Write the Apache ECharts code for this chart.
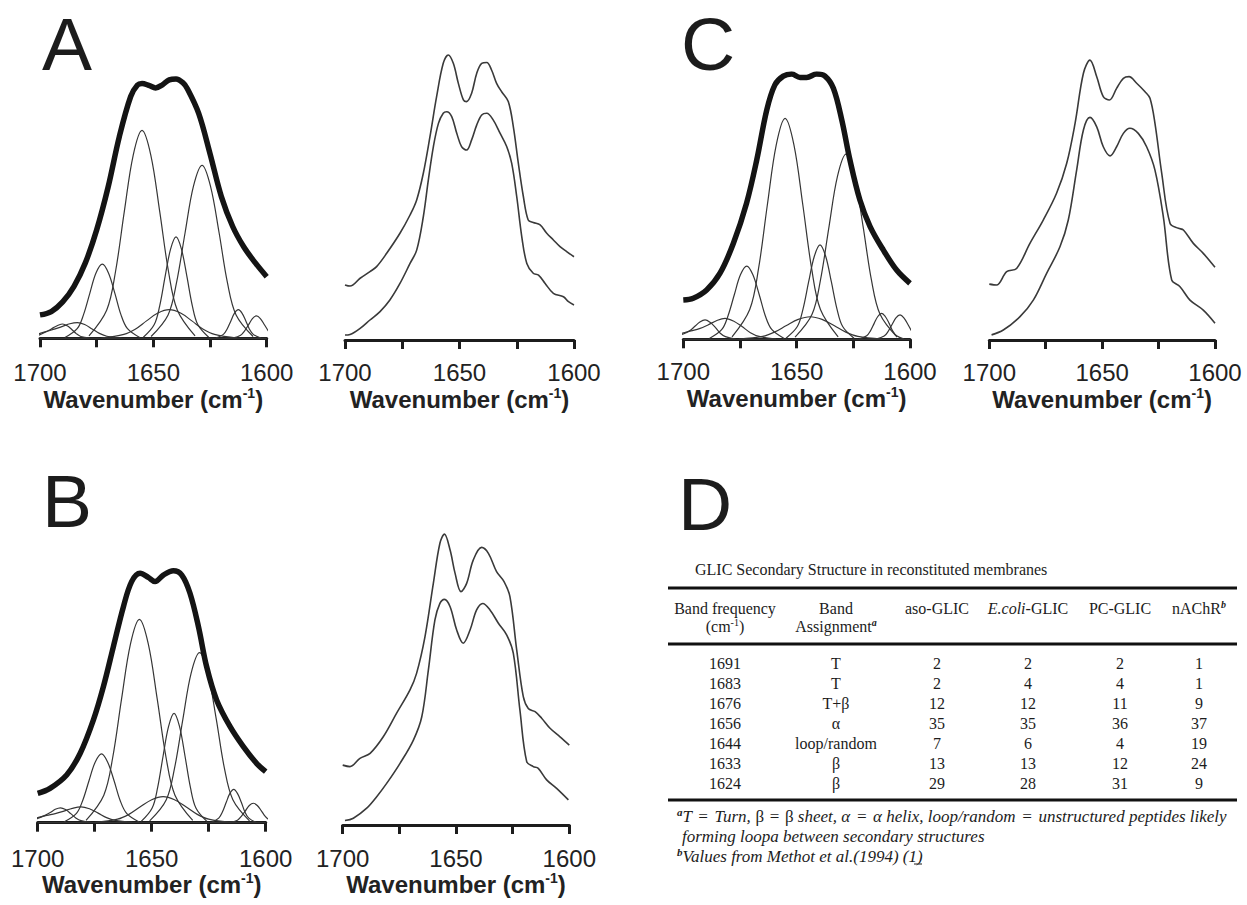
<!DOCTYPE html>
<html>
<head>
<meta charset="utf-8">
<script src="https://cdn.jsdelivr.net/npm/echarts@6/dist/echarts.min.js"></script>
<style>
html, body { margin: 0; padding: 0; background: #fff; }
#main { width: 1247px; height: 905px; }
</style>
</head>
<body>
<div id="main"></div>
<script>
// ---- data ----
var labeledTicks = [1700, 1650, 1600];

// left plots: measured envelope (thick) and fitted bands, relative units
var envA = [[1700,9.0],[1695,10.3],[1690,14],[1685,20],[1680,29],[1675,41.7],[1670,58],[1665,77.6],[1660,93],[1657,97.4],[1655,98],[1652,97.3],[1649,96.3],[1646,97.5],[1643,99.4],[1640,99.7],[1637,98.3],[1635,96],[1630,86.5],[1625,71],[1620,54.5],[1615,43],[1610,35],[1605,29],[1600,23.7]];
var envB = [[1700,11.6],[1694.6,13.6],[1687.3,18.9],[1681.4,27.4],[1675.6,40.6],[1671.2,53.8],[1666.8,69.7],[1662.4,85.5],[1658.8,95.4],[1655.1,98.7],[1651.5,97.1],[1648.5,95.4],[1644.9,98],[1640.5,99.7],[1636.8,98],[1633.2,90.8],[1629.5,77.6],[1625.9,61.7],[1621.5,48.5],[1615.6,38],[1609.8,30.1],[1604,23.5],[1600,20.2]];
var envC = [[1700,14.8],[1695.6,15.5],[1689.7,18.6],[1683.8,24.9],[1677.9,36.2],[1672.1,51.3],[1667.6,67.6],[1663.2,86.4],[1659.6,95.9],[1655.9,99.2],[1652.2,100],[1648.5,98.7],[1645.6,98.7],[1641.2,100],[1637.5,99.2],[1633.8,94.6],[1630.1,82.7],[1626.5,67.6],[1622.1,52.5],[1617.6,42.5],[1611.8,33.7],[1605.9,26.1],[1600,21.1]];

var bandsA = [
  [[1703,0.6],[1700,1.4],[1698,2.2],[1696,3.1],[1694,4.1],[1692,5.0],[1690,5.5],[1688,4.8],[1686,3.4],[1684,1.8],[1682,0.7],[1678,0.1]],
  [[1703,1.0],[1700,1.9],[1696.5,2.8],[1693.3,3.6],[1690,4.6],[1686.8,5.6],[1683.5,6],[1680.3,5.3],[1677,3.6],[1673.8,1.9],[1670.5,0.8],[1664,0.1]],
  [[1689,0.3],[1683.5,3.8],[1680.8,9.1],[1678,17.4],[1675.3,25.1],[1672.5,28.5],[1669.8,25.1],[1667,17.4],[1664.3,9.1],[1661.5,3.8],[1656,0.3]],
  [[1678.4,0.9],[1670.6,10.8],[1666.7,25.6],[1662.8,48.8],[1658.9,70.4],[1655,80],[1651.1,70.4],[1647.2,48.8],[1643.3,25.6],[1639.4,10.8],[1631.6,0.9]],
  [[1673,0.1],[1663,1.5],[1658,3.5],[1653,6.7],[1648,9.7],[1643,11],[1638,9.7],[1633,6.7],[1628,3.5],[1623,1.5],[1613,0.1]],
  [[1654.4,0.4],[1649.6,5.3],[1647.2,12.5],[1644.8,23.8],[1642.4,34.3],[1640,39],[1637.6,34.3],[1635.2,23.8],[1632.8,12.5],[1630.4,5.3],[1625.6,0.4]],
  [[1651,0.7],[1643.5,9],[1639.8,21.3],[1636,40.6],[1632.3,58.5],[1628.5,66.5],[1624.8,58.5],[1621,40.6],[1617.3,21.3],[1613.5,9],[1606,0.7]],
  [[1622.4,0.1],[1619.1,1.5],[1617.5,3.5],[1615.8,6.7],[1614.2,9.7],[1612.5,11],[1610.9,9.7],[1609.2,6.7],[1607.6,3.5],[1605.9,1.5],[1602.6,0.1]],
  [[1615,0.1],[1611.5,1.2],[1609.8,2.8],[1608,5.2],[1606.3,7.6],[1604.5,8.6],[1602.8,7.6],[1601,5.2],[1599.3,2.8]]
];
var bandsB = [
  [[1703.5,0.8],[1700,1.7],[1696.8,2.9],[1694.5,4.0],[1692.3,5.3],[1690,5.9],[1687.8,5.2],[1685.5,3.6],[1683.3,1.9],[1681,0.8],[1676.5,0.1]],
  [[1703.5,1.1],[1700,2.0],[1696,2.9],[1692.3,3.6],[1688.5,4.6],[1684.8,5.7],[1681,6.3],[1677.3,5.5],[1673.5,3.8],[1669.8,2],[1666,0.9],[1658.5,0.1]],
  [[1688.5,0.3],[1683,3.7],[1680.3,8.7],[1677.5,16.6],[1674.8,23.9],[1672,27.2],[1669.3,23.9],[1666.5,16.6],[1663.8,8.7],[1661,3.7],[1655.5,0.3]],
  [[1678.8,0.9],[1671,10.9],[1667.1,25.8],[1663.2,49.1],[1659.3,70.8],[1655.4,80.5],[1651.5,70.8],[1647.6,49.1],[1643.7,25.8],[1639.8,10.9],[1632,0.9]],
  [[1675,0.1],[1665,1.4],[1660,3.3],[1655,6.3],[1650,9.1],[1645,10.3],[1640,9.1],[1635,6.3],[1630,3.3],[1625,1.4],[1615,0.1]],
  [[1654.6,0.5],[1649.8,5.8],[1647.4,13.9],[1645,26.4],[1642.6,38.1],[1640.2,43.3],[1637.8,38.1],[1635.4,26.4],[1633,13.9],[1630.6,5.8],[1625.8,0.5]],
  [[1650.9,0.7],[1643.6,9.1],[1640,21.5],[1636.3,41.1],[1632.7,59.2],[1629,67.3],[1625.4,59.2],[1621.7,41.1],[1618.1,21.5],[1614.4,9.1],[1607.1,0.7]],
  [[1623.9,0.1],[1620.6,1.8],[1619,4.2],[1617.3,8.1],[1615.7,11.6],[1614,13.2],[1612.4,11.6],[1610.7,8.1],[1609.1,4.2],[1607.4,1.8],[1604.1,0.1]],
  [[1615.9,0.1],[1612.4,1],[1610.7,2.5],[1608.9,4.7],[1607.2,6.8],[1605.4,7.7],[1603.7,6.8],[1601.9,4.7],[1600.2,2.5],[1598.4,1]]
];
var bandsC = [
  [[1703.9,1.0],[1700,2.0],[1697.2,3.2],[1694.9,4.9],[1692.7,6.5],[1690.4,7.3],[1688.2,6.4],[1685.9,4.5],[1683.7,2.3],[1681.4,1],[1676.9,0.1]],
  [[1704.1,1.4],[1700,2.4],[1696.6,3.2],[1692.9,4.0],[1689.1,5.4],[1685.4,7.0],[1681.6,7.9],[1677.9,6.9],[1674.1,4.8],[1670.4,2.5],[1666.6,1.1],[1659.1,0.1]],
  [[1688.5,0.3],[1683,3.7],[1680.3,8.8],[1677.5,16.8],[1674.8,24.3],[1672,27.6],[1669.3,24.3],[1666.5,16.8],[1663.8,8.8],[1661,3.7],[1655.5,0.3]],
  [[1678.5,0.9],[1670.7,11.2],[1666.8,26.7],[1662.9,50.8],[1659,73.3],[1655.1,83.3],[1651.2,73.3],[1647.3,50.8],[1643.4,26.7],[1639.5,11.2],[1631.7,0.9]],
  [[1675.5,0.1],[1665,1.1],[1659.8,2.7],[1654.5,5.2],[1649.3,7.5],[1644,8.5],[1638.8,7.5],[1633.5,5.2],[1628.3,2.7],[1623,1.1],[1612.5,0.1]],
  [[1654.7,0.4],[1649.7,4.8],[1647.2,11.4],[1644.7,21.7],[1642.2,31.3],[1639.7,35.6],[1637.2,31.3],[1634.7,21.7],[1632.2,11.4],[1629.7,4.8],[1624.7,0.4]],
  [[1650.7,0.8],[1643.2,9.4],[1639.5,22.3],[1635.7,42.6],[1632,61.4],[1628.2,69.8],[1624.5,61.4],[1620.7,42.6],[1617,22.3],[1613.2,9.4],[1605.7,0.8]],
  [[1622.4,0.1],[1619.1,1.3],[1617.5,3.1],[1615.8,6],[1614.2,8.6],[1612.5,9.8],[1610.9,8.6],[1609.2,6],[1607.6,3.1],[1605.9,1.3],[1602.6,0.1]],
  [[1614.9,0.1],[1611.4,1.2],[1609.7,2.9],[1607.9,5.6],[1606.2,8.1],[1604.4,9.2],[1602.7,8.1],[1600.9,5.6],[1599.2,2.9]]
];
var baseline = [[1700,0],[1600,0]];

// right plots: two spectra each, relative units
var specATop = [[1700,19.0],[1697.8,18.6],[1693.4,21.3],[1689.1,23.6],[1686.2,25.3],[1681.8,29.9],[1676,36.8],[1671.6,43.1],[1668.7,48.3],[1665.8,57.5],[1662.9,70.1],[1660,83.9],[1657.1,95.4],[1654.9,98.3],[1652.7,95.4],[1650.5,88.5],[1648.3,82.8],[1646.9,82.2],[1644.7,85.1],[1642.5,91.9],[1640.3,95.4],[1638.1,95.7],[1636,93.1],[1633.8,88.5],[1631.6,85.6],[1628.7,82.2],[1626.5,73.6],[1624.3,60.9],[1622.1,49.4],[1620,41.4],[1617.8,40.5],[1614.8,39.7],[1611.9,36.8],[1609,34.5],[1606.1,32.2],[1603.2,30.5],[1600,28.7]];
var specABot = [[1700,1.7],[1697.8,1.9],[1693.4,4.0],[1689.1,6.9],[1684.7,9.8],[1680.4,13.8],[1676,19.5],[1671.6,26.4],[1668.7,31.0],[1665.8,42.5],[1663.6,55.2],[1661.4,66.7],[1659.2,74.7],[1657.1,78.2],[1655.6,78.7],[1653.4,77.0],[1651.2,71.3],[1649.1,66.7],[1646.9,65.5],[1644.7,69.0],[1642.5,74.1],[1640.3,77.6],[1638.1,78.2],[1635.3,75.9],[1632.3,71.3],[1629.4,66.7],[1627.2,60.9],[1625,49.4],[1622.8,35.6],[1620.6,26.4],[1617.8,23.0],[1615.5,22.4],[1612.6,19.5],[1609,16.1],[1604.6,14.9],[1602.4,13.2],[1600,12.1]];
var specBTop = [[1700,20.3],[1696.8,19.8],[1692.4,22.6],[1687.9,24.3],[1682.1,29.9],[1676.2,37.9],[1670.3,45.8],[1667.4,51.4],[1663.7,63.8],[1660,81.9],[1657.1,95.5],[1655.1,98.6],[1652.6,93.2],[1650.4,85.3],[1647.8,79.1],[1645.3,81.9],[1642.4,89.8],[1638.7,94.1],[1635.7,92.1],[1632.1,85.9],[1628.8,82.5],[1626.2,77.4],[1623.2,59.3],[1620.3,43.5],[1618.1,39.5],[1615.1,38.4],[1612.2,36.2],[1608.5,32.8],[1604.1,29.9],[1600,27.1]];
var specBBot = [[1699,1.5],[1695.3,2.3],[1689.4,5.7],[1685,9.6],[1680.6,14.1],[1674.7,20.9],[1668.8,28.8],[1665.1,36.7],[1662.2,52.5],[1659.3,69.5],[1657.1,75.1],[1655.1,76.5],[1652.6,74.0],[1649.7,66.1],[1646.8,61.6],[1643.8,66.1],[1640.9,72.9],[1638.2,75.1],[1635,72.9],[1631.3,68.4],[1627.6,64.4],[1624.7,58.2],[1621.8,39.0],[1618.8,21.5],[1615.9,19.8],[1613.7,19.2],[1610,15.3],[1605.6,12.4],[1600.4,8.5]];
var specCTop = [[1700,19.6],[1696.8,19.3],[1692.3,24.0],[1687.9,25.1],[1682,33.9],[1676.1,42.1],[1670.2,51.5],[1665.7,62.0],[1662,76.0],[1658.3,93.6],[1655.4,98.2],[1652.4,92.4],[1649.5,85.4],[1646.8,84.2],[1643.6,88.3],[1640.6,91.8],[1638.1,92.4],[1634.7,90.1],[1631,87.1],[1628.8,84.8],[1626.6,76.0],[1623.6,58.5],[1619.9,40.9],[1616.2,39.2],[1614,38.6],[1609.6,33.9],[1605.2,30.4],[1600,25.5]];
var specCBot = [[1699,1.8],[1693.8,3.5],[1686.4,8.2],[1680.5,14.0],[1674.6,23.4],[1668.7,32.7],[1665,42.1],[1661.3,59.6],[1658.3,73.7],[1655.4,78.1],[1652.4,74.8],[1649.5,67.8],[1646.5,64.6],[1643.6,67.8],[1640.6,72.5],[1637.7,74.3],[1634,72.5],[1630.3,67.8],[1626.6,59.6],[1622.9,43.3],[1619.2,21.1],[1615.5,18.7],[1611.1,14.0],[1605.2,10.5],[1600,5.9]];

// table D
var bandFreq = [1691, 1683, 1676, 1656, 1644, 1633, 1624];
var bandAssign = ['T', 'T', 'T+β', 'α', 'loop/random', 'β', 'β'];
var asoGLIC = [2, 2, 12, 35, 7, 13, 29];
var ecoliGLIC = [2, 4, 12, 35, 6, 13, 28];
var pcGLIC = [2, 4, 11, 36, 4, 12, 31];
var nAChR = [1, 1, 9, 37, 19, 24, 9];

// ---- chart ----
var sans = '"Liberation Sans", Arial, Helvetica, sans-serif';
var serif = '"Liberation Serif", "Times New Roman", serif';
var ink = '#1c1c1c';

var chart = echarts.init(document.getElementById('main'), null, {renderer: 'svg'});

var grids = [], xAxes = [], yAxes = [], series = [];

function addPanel(box) {
    var i = grids.length;
    grids.push({left: box.left, top: box.top, width: box.width, height: box.height});
    xAxes.push({
        gridIndex: i, type: 'value', min: 1600, max: 1700, interval: 25, inverse: true,
        offset: box.offset,
        axisLine: {lineStyle: {color: ink, width: 3}},
        axisTick: {length: 9, lineStyle: {color: ink, width: 3}},
        splitLine: {show: false},
        axisLabel: {
            showMinLabel: true, showMaxLabel: true, margin: 8,
            fontFamily: sans, fontSize: 24, color: '#222',
            formatter: function (v) { return labeledTicks.indexOf(v) >= 0 ? String(v) : ''; }
        },
        name: '{t|Wavenumber (cm}{s|-1}{t|)}',
        nameLocation: 'middle', nameGap: 31,
        nameTextStyle: {
            rich: {
                t: {fontFamily: sans, fontSize: 24, fontWeight: 'bold', color: '#222', lineHeight: 27},
                s: {fontFamily: sans, fontSize: 14, fontWeight: 'bold', color: '#222', lineHeight: 16, verticalAlign: 'top'}
            }
        }
    });
    yAxes.push({gridIndex: i, type: 'value', min: 0, max: 100, show: false});
    return i;
}

function line(i, data, color, width) {
    series.push({
        type: 'line', xAxisIndex: i, yAxisIndex: i, data: data,
        showSymbol: false, smooth: 0.35, silent: true,
        lineStyle: {color: color, width: width}
    });
}

function fitPanel(box, env, bands) {
    var i = addPanel(box);
    line(i, baseline, '#333', 1.3);
    bands.forEach(function (b) { line(i, b, '#363636', 1.2); });
    line(i, env, '#141414', 5.5);
}

function specPanel(box, top, bot) {
    var i = addPanel(box);
    line(i, top, '#3a3a3a', 1.6);
    line(i, bot, '#3a3a3a', 1.6);
}

fitPanel({left: 40, top: 78.3, width: 226.7, height: 260, offset: 14.4}, envA, bandsA);
specPanel({left: 345, top: 50, width: 229, height: 290, offset: 12.7}, specATop, specABot);
fitPanel({left: 37.7, top: 570, width: 228, height: 252.7, offset: 15.6}, envB, bandsB);
specPanel({left: 342.7, top: 530, width: 226.6, height: 295, offset: 13.3}, specBTop, specBBot);
fitPanel({left: 683.3, top: 74, width: 226.7, height: 265.3, offset: 12.4}, envC, bandsC);
specPanel({left: 989.3, top: 55, width: 225.7, height: 285, offset: 12.7}, specCTop, specCBot);

// panel letters, table and notes
var g = [];
function text(x, y, str, font, align, rich) {
    var st = {text: str, x: x, y: y, align: align || 'center', verticalAlign: 'middle', fill: ink};
    if (font) st.font = font;
    if (rich) st.rich = rich;
    g.push({type: 'text', silent: true, style: st});
}
function rule(x1, x2, y, w) {
    g.push({type: 'line', silent: true, shape: {x1: x1, y1: y, x2: x2, y2: y}, style: {stroke: '#111', lineWidth: w}});
}

var letterFont = '75px ' + sans;
text(42, 44, 'A', letterFont, 'left');
text(42, 501, 'B', letterFont, 'left');
text(681, 44, 'C', letterFont, 'left');
text(678, 504, 'D', letterFont, 'left');

var cell = '16px ' + serif;
var richT = {
    t: {font: cell, fill: ink, lineHeight: 18},
    i: {font: 'italic 16px ' + serif, fill: ink, lineHeight: 18},
    s: {font: '10px ' + serif, fill: ink, lineHeight: 11, verticalAlign: 'top'},
    si: {font: 'italic bold 10px ' + serif, fill: ink, lineHeight: 11, verticalAlign: 'top'}
};
var richN = {
    t: {font: '17px ' + serif, fill: ink, lineHeight: 19},
    i: {font: 'italic 17px ' + serif, fill: ink, lineHeight: 19},
    si: {font: 'italic bold 11px ' + serif, fill: ink, lineHeight: 12, verticalAlign: 'top'}
};

text(695, 569, 'GLIC Secondary Structure in reconstituted membranes', cell, 'left');
rule(668, 1237, 588, 3);
rule(668, 1237, 644, 3);
rule(668, 1237, 800, 3);

var colX = [725, 836, 937, 1028, 1120, 1199];
text(colX[0], 608, 'Band frequency', cell);
text(colX[0], 626, '{t|(cm}{s|-1}{t|)}', null, 'center', richT);
text(colX[1], 608, 'Band', cell);
text(colX[1], 626, '{t|Assignment}{si|a}', null, 'center', richT);
text(colX[2], 608, 'aso-GLIC', cell);
text(colX[3], 608, '{i|E.coli}{t|-GLIC}', null, 'center', richT);
text(colX[4], 608, 'PC-GLIC', cell);
text(colX[5], 608, '{t|nAChR}{si|b}', null, 'center', richT);

var cols = [bandFreq, bandAssign, asoGLIC, ecoliGLIC, pcGLIC, nAChR];
bandFreq.forEach(function (f, r) {
    cols.forEach(function (col, c) {
        text(colX[c], 663 + r * 20, String(col[r]), cell);
    });
});

var eq = ' \u200A=\u200A ';
text(677, 816, '{si|a}{i|T' + eq + 'Turn, }{t|β' + eq + 'β}{i| sheet, α' + eq + 'α helix, loop/random' + eq + 'unstructured peptides likely}', null, 'left', richN);
text(682, 836, '{i|forming loopa between secondary structures}', null, 'left', richN);
text(677, 856, '{si|b}{i|Values from Methot et al.(1994) (1)}', null, 'left', richN);
g.push({type: 'line', silent: true, shape: {x1: 914, y1: 864, x2: 922, y2: 864}, style: {stroke: ink, lineWidth: 1}});

chart.setOption({
    animation: false,
    backgroundColor: '#fff',
    grid: grids,
    xAxis: xAxes,
    yAxis: yAxes,
    series: series,
    graphic: g
});
</script>
</body>
</html>
